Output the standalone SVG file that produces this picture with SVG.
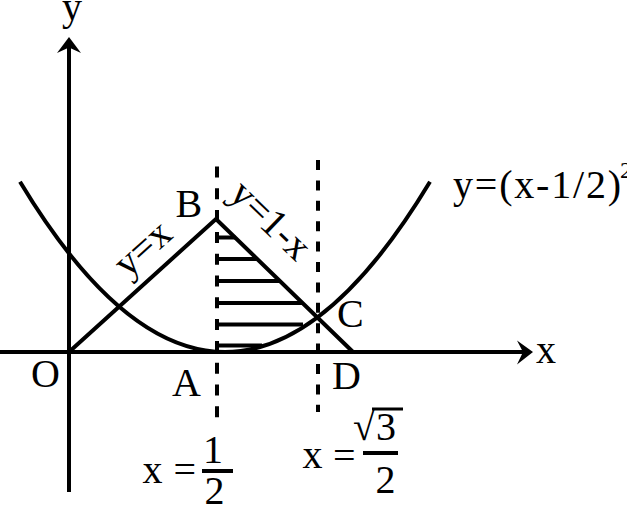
<svg xmlns="http://www.w3.org/2000/svg" width="627" height="508" viewBox="0 0 627 508">
  <style>
    .ln { fill: none; stroke: #000; stroke-width: 4; }
    .dash { fill: none; stroke: #000; stroke-width: 4; }
    .hat { fill: none; stroke: #000; stroke-width: 4; }
    .t { font-family: "Liberation Serif", "Times New Roman", serif; font-size: 40px; fill: #000; }
    .sup { font-family: "Liberation Serif", "Times New Roman", serif; font-size: 24px; fill: #000; }
    .ah { fill: #000; stroke: none; }
  </style>
  <rect width="627" height="508" fill="#fff"/>

  <g id="axes">
    <line class="ln" x1="69" y1="492" x2="69" y2="46"/>
    <path class="ah" d="M69,37 L81,53 L69,47.5 L57,53 Z"/>
    <line class="ln" x1="0" y1="352" x2="524" y2="352"/>
    <path class="ah" d="M533,352 L517,340.5 L523,352 L517,364.5 Z"/>
  </g>

  <g id="dashed-lines">
    <line class="dash" x1="217" y1="166.5" x2="217" y2="420" stroke-dasharray="11 10.8"/>
    <line class="dash" x1="318" y1="160" x2="318" y2="412" stroke-dasharray="10 10.4"/>
  </g>

  <g id="hatching">
    <line class="hat" x1="217" y1="237.5" x2="235.5" y2="237.5"/>
    <line class="hat" x1="217" y1="259" x2="257.5" y2="259"/>
    <line class="hat" x1="217" y1="281" x2="280" y2="281"/>
    <line class="hat" x1="217" y1="303" x2="302.5" y2="303"/>
    <line class="hat" x1="217" y1="324.6" x2="303" y2="324.6"/>
    <line class="hat" x1="217" y1="345.5" x2="262" y2="345.5"/>
  </g>

  <g id="curves">
    <path id="parabola" class="ln" d="M20,181.8 Q225,522.2 430,181.8"/>
    <polyline id="lines-yx-y1x" class="ln" stroke-linejoin="miter" points="69,352 216,219 353,352"/>
  </g>

  <g id="labels">
    <text class="t" x="62" y="20">y</text>
    <text class="t" x="536" y="363">x</text>
    <text class="t" x="175.5" y="217">B</text>
    <text class="t" x="337" y="327">C</text>
    <text class="t" x="332" y="389">D</text>
    <text class="t" x="31" y="387">O</text>
    <text class="t" x="172" y="396">A</text>
    <text class="t" text-anchor="middle" transform="translate(151,257.7) rotate(-42)">y=x</text>
    <text class="t" transform="translate(227.5,196) rotate(44)">y=1-x</text>
    <g id="formula">
      <text class="t" x="453" y="198" textLength="168" lengthAdjust="spacing">y=(x-1/2)</text>
      <text class="sup" x="620" y="178">2</text>
    </g>
    <g id="x-half">
      <text class="t" x="142.5" y="483">x</text>
      <text class="t" x="173.5" y="483">=</text>
      <text class="t" x="213" y="463" text-anchor="middle">1</text>
      <line class="ln" x1="202" y1="471" x2="233" y2="471"/>
      <text class="t" x="214.5" y="504" text-anchor="middle">2</text>
    </g>
    <g id="x-root3-half">
      <text class="t" x="302.5" y="468">x</text>
      <text class="t" x="333" y="469">=</text>
      <text class="t" x="353" y="440">√</text>
      <line stroke="#000" stroke-width="3" x1="372" y1="409" x2="403" y2="409"/>
      <text class="t" x="386" y="440" text-anchor="middle">3</text>
      <line class="ln" x1="363" y1="453" x2="398" y2="453"/>
      <text class="t" x="385.5" y="493" text-anchor="middle">2</text>
    </g>
  </g>
</svg>
